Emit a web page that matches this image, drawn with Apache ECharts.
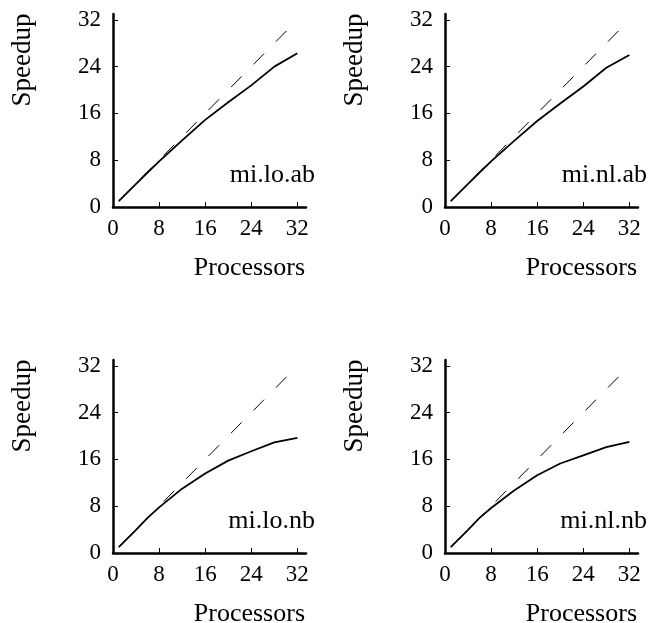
<!DOCTYPE html>
<html>
<head>
<meta charset="utf-8">
<script src="https://cdn.jsdelivr.net/npm/echarts@6/dist/echarts.min.js"></script>
<style>html,body{margin:0;padding:0;background:#fff;}#c{width:654px;height:623px;}</style>
</head>
<body>
<div id="c"></div>
<script>
const processors = [1, 2, 4, 6, 8, 12, 16, 20, 24, 28, 32];
const idealX = [1, 30.4];
const panelNames = ['mi.lo.ab', 'mi.nl.ab', 'mi.lo.nb', 'mi.nl.nb'];
const speedupLoAb = [1, 2, 3.95, 5.9, 7.8, 11.4, 14.9, 17.9, 20.8, 24.0, 26.3];
const speedupNlAb = [1, 2, 3.95, 5.9, 7.8, 11.3, 14.7, 17.7, 20.6, 23.8, 26.0];
const speedupLoNb = [1, 2, 3.95, 6.0, 7.8, 11.0, 13.6, 15.8, 17.4, 18.9, 19.7];
const speedupNlNb = [1, 2, 3.95, 6.0, 7.7, 10.7, 13.3, 15.3, 16.7, 18.1, 19.0];
const tickValues = [0, 8, 16, 24, 32];
const xAxisTitle = 'Processors';
const yAxisTitle = 'Speedup';

const seriesData = [speedupLoAb, speedupNlAb, speedupLoNb, speedupNlNb];
const FONT = '"Liberation Serif", "DejaVu Serif", serif';
const panels = [
  {left: 113, top: 14},
  {left: 445, top: 14},
  {left: 113, top: 360},
  {left: 445, top: 360}
];
const W = 193, H = 193;

const grids = [], xAxes = [], yAxes = [], series = [], graphics = [];
panels.forEach((p, i) => {
  grids.push({left: p.left, top: p.top, width: W, height: H, containLabel: false});
  const axisLine = {show: true, onZero: false, lineStyle: {color: '#000', width: 2.5}};
  xAxes.push({
    type: 'value', gridIndex: i, min: 0, max: 33.5, interval: 8,
    axisLine: axisLine,
    axisTick: {show: true, inside: true, length: 5, customValues: tickValues, lineStyle: {color: '#000', width: 1}},
    axisLabel: {show: true, customValues: tickValues, margin: 10, color: '#000', fontFamily: FONT, fontSize: 23},
    splitLine: {show: false}
  });
  yAxes.push({
    type: 'value', gridIndex: i, min: 0, max: 33, interval: 8,
    axisLine: axisLine,
    axisTick: {show: true, inside: true, length: 5, customValues: tickValues, lineStyle: {color: '#000', width: 1}},
    axisLabel: {show: true, customValues: tickValues, margin: 12, color: '#000', fontFamily: FONT, fontSize: 23},
    splitLine: {show: false}
  });
  series.push({
    type: 'line', xAxisIndex: i, yAxisIndex: i, symbol: 'none', silent: true,
    data: idealX.map(v => [v, v]),
    lineStyle: {color: '#000', width: 1, type: [15, 17]}
  });
  series.push({
    type: 'line', xAxisIndex: i, yAxisIndex: i, symbol: 'none', silent: true,
    data: processors.map((x, k) => [x, seriesData[i][k]]),
    lineStyle: {color: '#000', width: 1.8}
  });
  const dx = p.left - 113, dy = p.top - 14;
  graphics.push({
    type: 'text', x: 23 + dx, y: 60 + dy, rotation: Math.PI / 2,
    style: {text: yAxisTitle, font: '27px ' + FONT, fill: '#000', textAlign: 'center', textVerticalAlign: 'middle'}
  });
  graphics.push({
    type: 'text', x: 305 + dx, y: 268 + dy,
    style: {text: xAxisTitle, font: '26px ' + FONT, fill: '#000', textAlign: 'right', textVerticalAlign: 'middle'}
  });
  graphics.push({
    type: 'text', x: 315 + dx, y: 175 + dy,
    style: {text: panelNames[i], font: '26px ' + FONT, fill: '#000', textAlign: 'right', textVerticalAlign: 'middle'}
  });
});

const chart = echarts.init(document.getElementById('c'), null, {renderer: 'canvas'});
chart.setOption({
  animation: false,
  backgroundColor: '#fff',
  grid: grids, xAxis: xAxes, yAxis: yAxes, series: series, graphic: graphics
});
</script>
</body>
</html>
